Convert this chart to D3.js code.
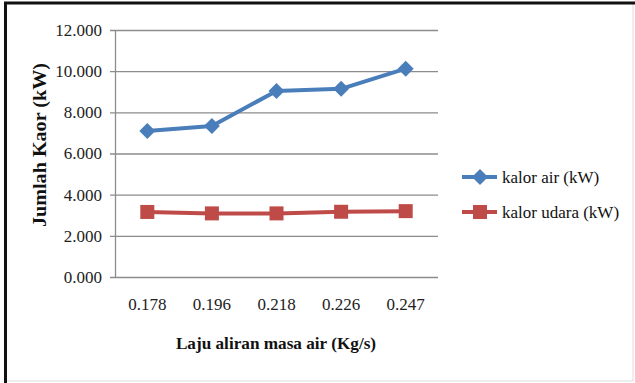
<!DOCTYPE html>
<html><head><meta charset="utf-8">
<script src="https://cdn.jsdelivr.net/npm/d3@7"></script>
<style>html,body{margin:0;padding:0;background:#fff;}svg{display:block;}
svg text{font-family:"Liberation Serif","Times New Roman",Times,"DejaVu Serif",serif;}</style>
</head><body>
<script>
const categories = ["0.178", "0.196", "0.218", "0.226", "0.247"];
const kalorAir = [7.09, 7.34, 9.04, 9.14, 10.12];
const kalorUdara = [3.16, 3.09, 3.09, 3.17, 3.20];
const yTicks = [0, 2, 4, 6, 8, 10, 12];
const seriesNames = ["kalor air (kW)", "kalor udara (kW)"];

(function () {
const W = 635, H = 383;
const svg = d3.select("body").append("svg").attr("width", W).attr("height", H);

// frame
svg.append("rect").attr("x", 5).attr("y", 3).attr("width", 628).attr("height", 378)
  .attr("fill", "#fff").attr("stroke", "#ddd").attr("stroke-width", 1);
svg.append("line").attr("x1", 4).attr("x2", 635).attr("y1", 3).attr("y2", 3).attr("stroke", "#111").attr("stroke-width", 3);
svg.append("line").attr("x1", 5.5).attr("x2", 5.5).attr("y1", 2).attr("y2", 383).attr("stroke", "#111").attr("stroke-width", 3);

const pL = 115, pR = 438, pT = 30, pB = 277;
const x = d3.scaleBand().domain(categories).range([pL, pR]);
const y = d3.scaleLinear().domain([0, 12]).range([pB, pT]);

// gridlines
svg.append("g").selectAll("line").data(yTicks).join("line")
  .attr("x1", pL - 5).attr("x2", pR)
  .attr("y1", d => y(d) + 0.5).attr("y2", d => y(d) + 0.5)
  .attr("stroke", "#8c8c8c").attr("stroke-width", 1.3);
// y axis line
svg.append("line").attr("x1", pL + 0.5).attr("x2", pL + 0.5).attr("y1", pT).attr("y2", pB + 0.5)
  .attr("stroke", "#8c8c8c").attr("stroke-width", 1.3);

// y tick labels
const fmt = d3.format(".3f");
svg.append("g").selectAll("text").data(yTicks).join("text")
  .attr("x", 102).attr("y", d => y(d)).attr("dy", "0.35em")
  .attr("text-anchor", "end").style("font-size", "17px").attr("fill", "#222")
  .text(d => fmt(d));

// x tick labels
svg.append("g").selectAll("text").data(categories).join("text")
  .attr("x", d => x(d) + x.bandwidth() / 2).attr("y", 304).attr("dy", "0.35em")
  .attr("text-anchor", "middle").style("font-size", "17px").attr("fill", "#222")
  .text(d => d);

// axis titles
svg.append("text").attr("x", 276).attr("y", 349).attr("text-anchor", "middle")
  .style("font-size", "17.2px").style("font-weight", "bold").attr("fill", "#111")
  .text("Laju aliran masa air (Kg/s)");
svg.append("text").attr("transform", "translate(40,145) rotate(-90)").attr("dy", "0.35em")
  .attr("text-anchor", "middle")
  .attr("textLength", 164).attr("lengthAdjust", "spacingAndGlyphs")
  .style("font-size", "18px").style("font-weight", "bold").attr("fill", "#111")
  .text("Jumlah Kaor (kW)");

const blue = "#4a7ebb", red = "#be4b48";
const cx = d => x(d) + x.bandwidth() / 2;
const line = d3.line().x(d => cx(d[0])).y(d => y(d[1]));

function drawMarker(g, px, py, color, shape) {
  if (shape === "diamond") {
    const s = 8;
    g.append("path").attr("d", `M${px},${py - s}L${px + s},${py}L${px},${py + s}L${px - s},${py}Z`).attr("fill", color);
  } else {
    const s = 7;
    g.append("rect").attr("x", px - s).attr("y", py - s).attr("width", 2 * s).attr("height", 2 * s).attr("fill", color);
  }
}
function drawSeries(vals, color, shape) {
  const data = categories.map((c, i) => [c, vals[i]]);
  svg.append("path").datum(data).attr("d", line).attr("fill", "none")
    .attr("stroke", color).attr("stroke-width", 4).attr("stroke-linejoin", "round");
  const g = svg.append("g");
  data.forEach(d => drawMarker(g, cx(d[0]), y(d[1]), color, shape));
}
drawSeries(kalorAir, blue, "diamond");
drawSeries(kalorUdara, red, "square");

// legend
const legend = [[seriesNames[0], blue, "diamond", 177], [seriesNames[1], red, "square", 212]];
legend.forEach(([name, color, shape, ly]) => {
  const g = svg.append("g");
  g.append("line").attr("x1", 462).attr("x2", 497).attr("y1", ly).attr("y2", ly).attr("stroke", color).attr("stroke-width", 4);
  drawMarker(g, 480, ly, color, shape);
  g.append("text").attr("x", 502).attr("y", ly).attr("dy", "0.35em")
    .style("font-size", "17px").attr("fill", "#111").text(name);
});
})();
</script>
</body></html>
